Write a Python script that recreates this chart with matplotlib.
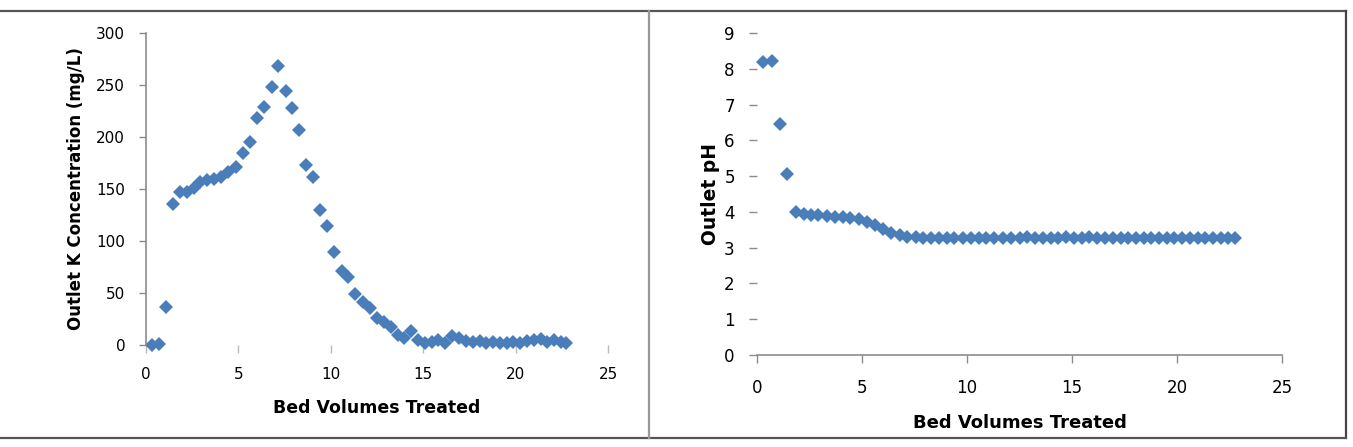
import matplotlib.pyplot as plt
from matplotlib.lines import Line2D

# bed volumes treated (shared by both panels)
bed_volumes = [0.30, 0.72, 1.10, 1.45, 1.85, 2.22, 2.58, 2.92, 3.32, 3.70,
               4.08, 4.45, 4.85, 5.25, 5.62, 6.00, 6.40, 6.80, 7.15, 7.55,
               7.92, 8.30, 8.68, 9.04, 9.40, 9.80, 10.20, 10.58, 10.92, 11.30,
               11.72, 12.10, 12.50, 12.88, 13.25, 13.62, 13.98, 14.35, 14.72, 15.10,
               15.46, 15.82, 16.20, 16.58, 16.95, 17.32, 17.68, 18.05, 18.42, 18.78,
               19.15, 19.52, 19.88, 20.25, 20.62, 20.98, 21.35, 21.72, 22.08, 22.45,
               22.75]

# outlet K concentration, mg/L
outlet_k = [0, 1, 37, 136, 147, 147, 151, 157, 159, 160,
            162, 166, 171, 185, 195, 218, 229, 248, 268, 244,
            228, 207, 173, 162, 130, 114, 89, 71, 65, 49,
            41, 36, 26, 22, 17, 10, 7, 13, 5, 2,
            3, 5, 2, 9, 7, 4, 3, 4, 2, 3,
            2, 2, 3, 2, 4, 5, 6, 3, 5, 3,
            2]

# outlet pH
outlet_ph = [8.18, 8.22, 6.45, 5.05, 4.00, 3.95, 3.92, 3.90, 3.88, 3.86,
             3.85, 3.83, 3.80, 3.72, 3.62, 3.52, 3.42, 3.35, 3.31, 3.29,
             3.28, 3.28, 3.27, 3.28, 3.28, 3.27, 3.28, 3.27, 3.28, 3.28,
             3.27, 3.28, 3.28, 3.29, 3.28, 3.27, 3.28, 3.28, 3.29, 3.28,
             3.28, 3.29, 3.28, 3.28, 3.27, 3.28, 3.28, 3.27, 3.28, 3.28,
             3.28, 3.27, 3.28, 3.28, 3.27, 3.28, 3.28, 3.27, 3.28, 3.28,
             3.28]

k_ticks = [0, 50, 100, 150, 200, 250, 300]
ph_ticks = list(range(10))
bv_ticks = [0, 5, 10, 15, 20, 25]

W, H = 1353, 447
blue = "#4a7ebb"
grey = "#8c8c8c"

fig = plt.figure(figsize=(W / 100, H / 100), dpi=100)


def box(x0, y0, x1, y1):
    """axes rect from pixel corners (top-left origin)"""
    return [x0 / W, 1 - y1 / H, (x1 - x0) / W, (y1 - y0) / H]


# left panel: K concentration
ax1 = fig.add_axes(box(146, 33, 608, 345))
ax1.plot(bed_volumes, outlet_k, "D", color=blue, ms=7.4, mew=0, clip_on=False)
ax1.set_xlim(0, 25)
ax1.set_ylim(0, 300)
ax1.set_xticks(bv_ticks)
ax1.set_yticks(k_ticks)
for s in ["top", "right", "bottom"]:
    ax1.spines[s].set_visible(False)
ax1.spines["left"].set_color(grey)
ax1.spines["left"].set_linewidth(1.2)
ax1.tick_params(axis="y", direction="out", length=5, width=1, color=grey, pad=10, labelsize=11)
ax1.tick_params(axis="x", direction="out", length=6, width=1, color="#bbbbbb", pad=10, labelsize=11)
ax1.set_xlabel("Bed Volumes Treated", fontsize=12.5, fontweight="bold")
ax1.set_ylabel("Outlet K Concentration (mg/L)", fontsize=12, fontweight="bold")
ax1.xaxis.set_label_coords(0.5, -0.202)
ax1.yaxis.set_label_coords(-0.152, 0.5)
ax1.xaxis.label.set_va("center")
ax1.yaxis.label.set_va("center")

# right panel: pH
ax2 = fig.add_axes(box(757, 33, 1282, 355))
ax2.plot(bed_volumes, outlet_ph, "D", color=blue, ms=7.4, mew=0, clip_on=False)
ax2.set_xlim(0, 25)
ax2.set_ylim(0, 9)
ax2.set_xticks(bv_ticks)
ax2.set_yticks(ph_ticks)
for s in ["top", "right", "left"]:
    ax2.spines[s].set_visible(False)
ax2.spines["bottom"].set_color(grey)
ax2.spines["bottom"].set_linewidth(1.2)
ax2.tick_params(axis="y", direction="out", length=6, width=1, color=grey, pad=10, labelsize=12)
ax2.tick_params(axis="x", direction="out", length=6, width=1, color=grey, pad=11, labelsize=12)
ax2.set_xlabel("Bed Volumes Treated", fontsize=13, fontweight="bold")
ax2.set_ylabel("Outlet pH", fontsize=13.5, fontweight="bold")
ax2.xaxis.set_label_coords(0.5, -0.211)
ax2.yaxis.set_label_coords(-0.088, 0.5)
ax2.xaxis.label.set_va("center")
ax2.yaxis.label.set_va("center")

# frame lines around the two charts
def px_line(xs, ys, color, lw):
    fig.add_artist(Line2D([x / W for x in xs], [1 - y / H for y in ys],
                          color=color, lw=lw, transform=fig.transFigure))


px_line([0, 1346], [11, 11], "#555555", 1.6)
px_line([1346, 1346], [11, 438], "#444444", 1.6)
px_line([0, 1346], [438, 438], "#555555", 1.6)
px_line([649, 649], [11, 438], "#999999", 1.6)

fig.savefig("out.png", dpi=100)
